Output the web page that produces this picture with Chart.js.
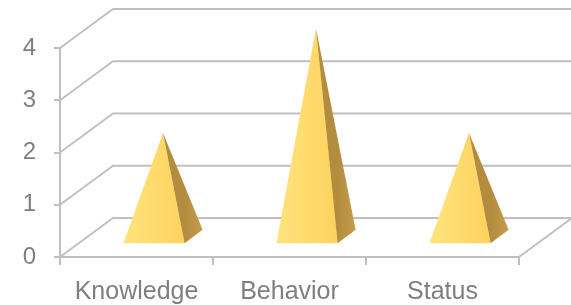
<!DOCTYPE html>
<html>
<head>
<meta charset="utf-8">
<script src="https://cdn.jsdelivr.net/npm/chart.js@4.4.1/dist/chart.umd.min.js"></script>
<style>
  html, body { margin: 0; padding: 0; background: #ffffff; }
  #wrap { width: 571px; height: 305px; position: relative; }
</style>
</head>
<body>
<div id="wrap"><canvas id="pyramidChart"></canvas></div>
<script>
// Donnees du graphique
const categories = ['Knowledge', 'Behavior', 'Status'];
const values = [2, 4, 2];
const yMin = 0;
const yMax = 4;
const yStep = 1;

// Style 3D (decalage de la profondeur)
const DEPTH_X = 53;
const DEPTH_Y = 39;
const LINE_COLOR = '#c0c0c0';
const TEXT_COLOR = '#7f7f7f';

// Murs du graphique 3D : grille du fond, mur gauche, sol
const wallsPlugin = {
    id: 'walls3d',
    beforeDatasetsDraw(chart) {
        const ctx = chart.ctx;
        const yScale = chart.scales.y;
        const area = chart.chartArea;
        ctx.save();
        ctx.strokeStyle = LINE_COLOR;
        ctx.lineWidth = 2;
        for (let v = yMin; v <= yMax; v += yStep) {
            const yF = yScale.getPixelForValue(v);
            ctx.beginPath();
            ctx.moveTo(area.left, yF);
            ctx.lineTo(area.left + DEPTH_X, yF - DEPTH_Y);
            ctx.lineTo(chart.width, yF - DEPTH_Y);
            ctx.stroke();
        }
        // bord droit du sol
        const y0 = yScale.getPixelForValue(yMin);
        ctx.beginPath();
        ctx.moveTo(area.right, y0);
        ctx.lineTo(area.right + DEPTH_X, y0 - DEPTH_Y);
        ctx.stroke();
        ctx.restore();
    }
};

// Pyramides dessinees a partir des barres calculees par Chart.js
const pyramidPlugin = {
    id: 'pyramids',
    afterDatasetsDraw(chart) {
        const ctx = chart.ctx;
        const meta = chart.getDatasetMeta(0);
        const d0 = 0.33, d1 = 0.67, dm = 0.5;
        ctx.save();
        meta.data.forEach(function(bar) {
            const props = bar.getProps(['x', 'y', 'base', 'width'], true);
            const half = props.width / 2;
            const fl = [props.x - half + d0 * DEPTH_X, props.base - d0 * DEPTH_Y];
            const fr = [props.x + half + d0 * DEPTH_X, props.base - d0 * DEPTH_Y];
            const br = [props.x + half + d1 * DEPTH_X, props.base - d1 * DEPTH_Y];
            const apex = [props.x + dm * DEPTH_X, props.y - dm * DEPTH_Y];

            // face avant
            const gFront = ctx.createLinearGradient(fl[0], 0, fr[0], 0);
            gFront.addColorStop(0, '#ffe47c');
            gFront.addColorStop(1, '#fdd25e');
            ctx.fillStyle = gFront;
            ctx.beginPath();
            ctx.moveTo(fl[0], fl[1]);
            ctx.lineTo(fr[0], fr[1]);
            ctx.lineTo(apex[0], apex[1]);
            ctx.closePath();
            ctx.fill();

            // face droite (ombre)
            const gSide = ctx.createLinearGradient(fr[0], 0, br[0], 0);
            gSide.addColorStop(0, '#b48c3e');
            gSide.addColorStop(1, '#c49c4a');
            ctx.fillStyle = gSide;
            ctx.beginPath();
            ctx.moveTo(fr[0], fr[1]);
            ctx.lineTo(br[0], br[1]);
            ctx.lineTo(apex[0], apex[1]);
            ctx.closePath();
            ctx.fill();
        });
        ctx.restore();
    }
};

const ctx = document.getElementById('pyramidChart');
new Chart(ctx.getContext('2d'), {
    type: 'bar',
    data: {
        labels: categories,
        datasets: [{
            data: values,
            backgroundColor: 'rgba(0,0,0,0)',
            borderWidth: 0,
            barPercentage: 0.4,
            categoryPercentage: 1
        }]
    },
    options: {
        responsive: true,
        maintainAspectRatio: false,
        animation: false,
        layout: { padding: { top: 48, right: 52, left: 0, bottom: 0 } },
        plugins: {
            legend: { display: false },
            tooltip: { enabled: false }
        },
        scales: {
            x: {
                afterFit: function(scale) { scale.height = 48; },
                grid: {
                    offset: true,
                    drawOnChartArea: false,
                    drawTicks: true,
                    tickLength: 8,
                    color: LINE_COLOR,
                    lineWidth: 2
                },
                border: { display: true, color: LINE_COLOR, width: 2 },
                ticks: {
                    color: TEXT_COLOR,
                    padding: 12,
                    font: { family: 'Liberation Sans', size: 25 }
                }
            },
            y: {
                min: yMin,
                max: yMax,
                afterFit: function(scale) { scale.width = 60; },
                grid: {
                    drawOnChartArea: false,
                    drawTicks: true,
                    tickLength: 6,
                    color: LINE_COLOR,
                    lineWidth: 2
                },
                border: { display: true, color: LINE_COLOR, width: 2 },
                ticks: {
                    stepSize: yStep,
                    color: TEXT_COLOR,
                    padding: 18,
                    font: { family: 'Liberation Sans', size: 24 }
                }
            }
        }
    },
    plugins: [wallsPlugin, pyramidPlugin]
});
</script>
</body>
</html>
